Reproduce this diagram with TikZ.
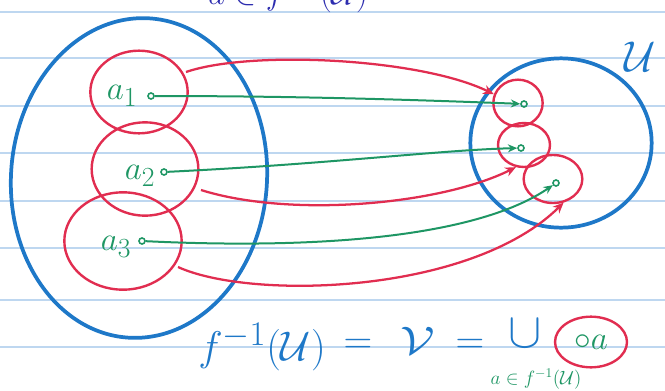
\documentclass[tikz,border=0pt]{standalone}
\usepackage{graphicx}
\usetikzlibrary{shapes.geometric,arrows.meta}
\definecolor{penblue}{RGB}{30,120,200}
\definecolor{penred}{RGB}{225,45,80}
\definecolor{pengreen}{RGB}{30,150,100}
\definecolor{inkblue}{RGB}{45,45,175}
\definecolor{ruled}{RGB}{190,215,240}
\begin{document}
\begin{tikzpicture}[x=0.75pt,y=-0.75pt,
  bigset/.style={ellipse,draw=penblue,line width=2.8pt,inner sep=0},
  redset/.style={ellipse,draw=penred,line width=1.8pt,inner sep=0},
  gdot/.style={circle,draw=pengreen,line width=1.2pt,inner sep=0,minimum size=4.5pt},
  garrow/.style={pengreen,line width=1.5pt,-{Stealth[length=7pt,width=6pt]}},
  rarrow/.style={penred,line width=1.7pt,-{Stealth[length=8pt,width=7pt]}},
  lab/.style={text=pengreen,font=\Huge},
  formula/.style={text=penblue,font=\Huge,inner sep=0},
]
\useasboundingbox (0,0) rectangle (665,390);
\clip (0,0) rectangle (665,390);
\foreach \y in {12,58,106,153,201,248,300,347}
  \draw[ruled,line width=1pt] (0,\y) -- (665,\y);

% top (cut) text
\node[text=inkblue,font=\Huge,anchor=base,inner sep=0] (toptext) at (288,4) {$a\in f^{-1}(\mathcal{U})$};

% big sets
\node[bigset,minimum width=192pt,minimum height=240pt,rotate=-4] (V) at (139,178) {};
\node[bigset,minimum width=136pt,minimum height=127pt] (Ubig) at (561,143) {};
\node[text=penblue,font=\Huge,inner sep=0] (Ulab) at (640,57) {\scalebox{1.3}{$\mathcal{U}$}};

% left red neighbourhoods
\node[redset,minimum width=73pt,minimum height=62pt] (A1) at (139,92) {};
\node[redset,minimum width=80pt,minimum height=70pt] (A2) at (145,169) {};
\node[redset,minimum width=88pt,minimum height=73pt] (A3) at (123,241) {};

% right red neighbourhoods
\node[redset,minimum width=37pt,minimum height=35pt] (B1) at (518,103) {};
\node[redset,minimum width=39pt,minimum height=33pt] (B2) at (524,145) {};
\node[redset,minimum width=44pt,minimum height=36pt] (B3) at (553,179) {};

% labels
\node[lab] (l1) at (122,96) {$a_1$};
\node[lab] (l2) at (140,176) {$a_2$};
\node[lab] (l3) at (116,247) {$a_3$};

% points
\node[gdot] (d1) at (151,96) {};
\node[gdot] (d2) at (164,172) {};
\node[gdot] (d3) at (142,241) {};
\node[gdot] (e1) at (524,104) {};
\node[gdot] (e2) at (521,148) {};
\node[gdot] (e3) at (556,183) {};

% green arrows
\draw[garrow] (d1) .. controls (300,96) and (420,100) .. (e1);
\draw[garrow] (d2) .. controls (330,164) and (440,150) .. (e2);
\draw[garrow] (d3) .. controls (330,250) and (480,235) .. (e3);

% red arrows
\coordinate (r1s) at (186,72);
\coordinate (r2s) at (201,190);
\coordinate (r3s) at (178,267);
\draw[rarrow] (r1s) .. controls (250,50) and (420,58) .. (B1.160);
\draw[rarrow] (r2s) .. controls (290,218) and (440,205) .. (B2.250);
\draw[rarrow] (r3s) .. controls (250,300) and (470,295) .. (B3.-66);

% bottom formula
\node[formula] (lhs) at (262,347) {\scalebox{1.25}{$f^{-1}(\mathcal{U})$}};
\node[formula] (eq1) at (358,346) {\scalebox{1.2}{$=$}};
\node[formula] (vv) at (418,341) {\scalebox{1.5}[1.2]{$\mathcal{V}$}};
\node[formula] (eq2) at (470,346) {\scalebox{1.2}{$=$}};
\node[formula] (cup) at (525,334) {\scalebox{1.5}{$\cup$}};
\node[redset,minimum width=54pt,minimum height=38pt,text=pengreen,font=\Huge] (circ) at (591,342) {$\circ a$};
\node[text=pengreen,font=\fontsize{14}{16}\selectfont,inner sep=0] (idx) at (536,379) {$a\in f^{-1}(\mathcal{U})$};
\end{tikzpicture}
\end{document}
